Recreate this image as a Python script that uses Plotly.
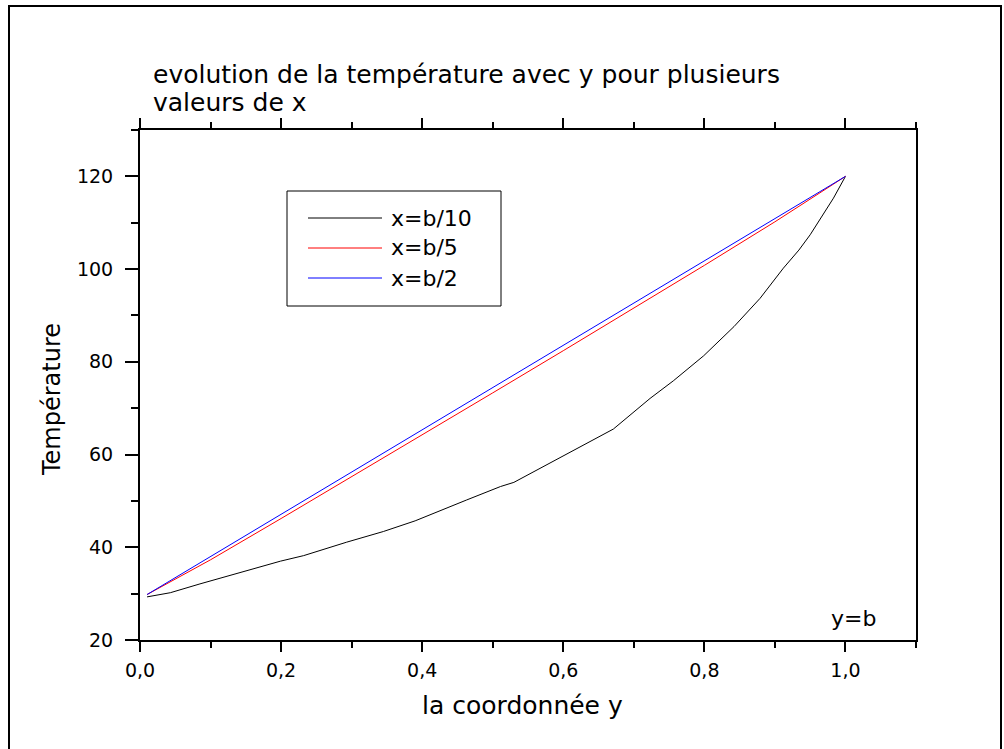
import plotly.graph_objects as go

# ---------------- data ----------------
y_lin = [0.01, 0.1, 0.2, 0.3, 0.4, 0.5, 0.6, 0.7, 0.8, 0.9, 1.0]
t_b5 = [29.8, 37.3, 46.2, 55.2, 64.2, 73.3, 82.4, 91.6, 100.8, 110.2, 120.0]
t_b2 = [29.8, 38.0, 47.1, 56.2, 65.3, 74.4, 83.5, 92.6, 101.7, 110.9, 120.0]

y_b10 = [0.01, 0.043, 0.085, 0.142, 0.199, 0.232, 0.293, 0.345, 0.390, 0.463,
         0.511, 0.530, 0.567, 0.615, 0.671, 0.723, 0.756, 0.799, 0.842, 0.879,
         0.912, 0.934, 0.950, 0.983, 1.0]
t_b10 = [29.3, 30.2, 32.1, 34.5, 37.0, 38.2, 41.1, 43.4, 45.7, 50.2,
         53.1, 54.0, 57.0, 61.0, 65.5, 72.1, 75.9, 81.3, 87.6, 93.7,
         100.2, 104.1, 107.4, 115.3, 120.0]

series_names = ["x=b/10", "x=b/5", "x=b/2"]
series_colors = ["#000000", "#ff0000", "#0000ff"]

title_lines = ["evolution de la température avec y pour plusieurs", "valeurs de x"]
x_title = "la coordonnée y"
y_title = "Température"
note = "y=b"

# ---------------- layout helpers ----------------
W, H = 1004, 749
ML, MR, MT, MB = 140, 88, 130, 109
PW, PH = W - ML - MR, H - MT - MB


def px(x):
    return (x - ML) / PW


def py(y):
    return (H - MB - y) / PH


FONT = "DejaVu Sans"

fig = go.Figure()
fig.add_trace(go.Scatter(x=y_b10, y=t_b10, mode="lines", name=series_names[0],
                         line=dict(color=series_colors[0], width=1)))
fig.add_trace(go.Scatter(x=y_lin, y=t_b5, mode="lines", name=series_names[1],
                         line=dict(color=series_colors[1], width=1)))
fig.add_trace(go.Scatter(x=y_lin, y=t_b2, mode="lines", name=series_names[2],
                         line=dict(color=series_colors[2], width=1)))

axis_common = dict(
    showgrid=False, zeroline=False, showline=True, linecolor="black", linewidth=2,
    ticks="outside", tickcolor="black", tickwidth=2,
    tickfont=dict(family=FONT, size=19, color="black"),
)

fig.update_xaxes(**axis_common, range=[0, 1.1], tick0=0, dtick=0.2, ticklen=10,
                 tickformat=".1f", mirror="ticks", ticklabelstandoff=2,
                 minor=dict(dtick=0.1, ticklen=6, tickwidth=2, tickcolor="black", ticks="outside"))
fig.update_yaxes(**axis_common, range=[20, 130], tick0=20, dtick=20, ticklen=13,
                 mirror=True, ticklabelstandoff=8,
                 minor=dict(dtick=10, ticklen=7, tickwidth=2, tickcolor="black", ticks="outside"))

shapes = []
# outer frame
shapes.append(dict(type="rect", xref="paper", yref="paper",
                   x0=px(9), x1=px(1001), y0=py(765), y1=py(6),
                   line=dict(color="black", width=2), layer="below"))
# legend box
shapes.append(dict(type="rect", xref="paper", yref="paper",
                   x0=px(287), x1=px(501), y0=py(306), y1=py(191),
                   line=dict(color="black", width=1), fillcolor="white"))
annotations = []
leg_rows = [218, 248, 278]
for name, col, yy in zip(series_names, series_colors, leg_rows):
    shapes.append(dict(type="line", xref="paper", yref="paper",
                       x0=px(308), x1=px(382), y0=py(yy), y1=py(yy),
                       line=dict(color=col, width=1)))
    annotations.append(dict(text=name, xref="paper", yref="paper", x=px(389), y=py(yy),
                            xanchor="left", yanchor="middle", showarrow=False,
                            font=dict(family=FONT, size=22, color="black")))

# title (two lines)
for line, yy in zip(title_lines, [75, 103]):
    annotations.append(dict(text=line, xref="paper", yref="paper",
                            x=px(151), y=py(yy), xanchor="left", yanchor="middle", align="left",
                            showarrow=False, font=dict(family=FONT, size=25, color="black")))
# axis titles
annotations.append(dict(text=x_title, xref="paper", yref="paper", x=px(522), y=py(705),
                        xanchor="center", yanchor="middle", showarrow=False,
                        font=dict(family=FONT, size=25, color="black")))
annotations.append(dict(text=y_title, xref="paper", yref="paper", x=px(52), y=py(400),
                        xanchor="center", yanchor="middle", showarrow=False, textangle=-90,
                        font=dict(family=FONT, size=24, color="black")))
# note
annotations.append(dict(text=note, xref="x", yref="y", x=1.011, y=24.7,
                        xanchor="center", yanchor="middle", showarrow=False,
                        font=dict(family=FONT, size=22, color="black")))

fig.update_layout(
    width=W, height=H,
    margin=dict(l=ML, r=MR, t=MT, b=MB, pad=0),
    paper_bgcolor="white", plot_bgcolor="white",
    showlegend=False,
    separators=", ",
    shapes=shapes, annotations=annotations,
    font=dict(family=FONT, color="black"),
)

fig.write_html("out.html")
